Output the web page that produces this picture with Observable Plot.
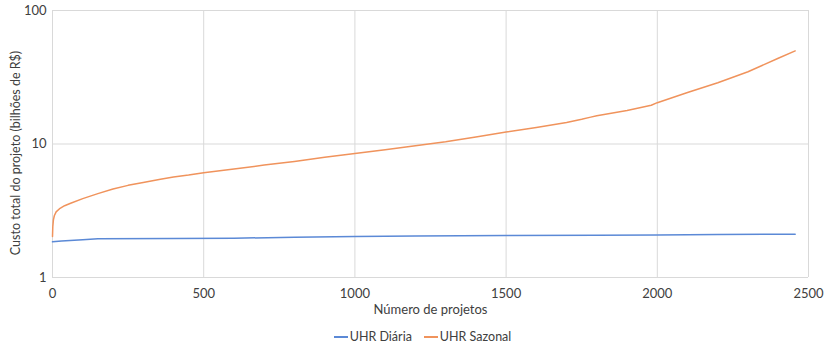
<!DOCTYPE html>
<html>
<head>
<meta charset="utf-8">
<script src="https://cdn.jsdelivr.net/npm/d3@7"></script>
<script src="https://cdn.jsdelivr.net/npm/@observablehq/plot@0.6"></script>
<style>
  body { margin: 0; background: #fff; font-family: Lato, "Open Sans", sans-serif; }
  #legend { display: flex; justify-content: center; gap: 12px; font-size: 12.5px; color: #404040; margin-left: 20px; margin-top: 7px; }
  .item { display: flex; align-items: center; gap: 2px; }
  .swatch { width: 14px; height: 2px; display: inline-block; }
</style>
</head>
<body>
<div id="chart"></div>
<div id="legend"></div>
<script>
const seriesNames = ["UHR Diária", "UHR Sazonal"];
const seriesColors = ["#5b89d6", "#f0935c"];

const diariaX = [0, 30, 100, 150, 400, 600, 800, 1000, 1200, 1500, 1800, 2000, 2200, 2456];
const diariaY = [1.85, 1.88, 1.92, 1.95, 1.96, 1.97, 2.0, 2.03, 2.05, 2.06, 2.07, 2.08, 2.1, 2.11];

const sazonalX = [0, 1, 3, 6, 12, 25, 40, 60, 100, 150, 200, 250, 300, 357, 400, 450, 500, 600, 700, 800, 900, 1000, 1100, 1200, 1300, 1400, 1500, 1600, 1700, 1750, 1780, 1800, 1900, 1980, 2000, 2100, 2200, 2300, 2400, 2456];
const sazonalY = [2.03, 2.4, 2.7, 2.9, 3.1, 3.3, 3.45, 3.6, 3.9, 4.25, 4.6, 4.9, 5.15, 5.45, 5.65, 5.85, 6.1, 6.5, 6.95, 7.4, 7.95, 8.5, 9.05, 9.7, 10.4, 11.3, 12.3, 13.3, 14.5, 15.3, 15.9, 16.3, 17.8, 19.5, 20.4, 24.3, 28.8, 34.8, 43.9, 49.8];

const xTicks = [0, 500, 1000, 1500, 2000, 2500];
const yTicks = [1, 10, 100];
const xLabel = "Número de projetos";
const yLabel = "Custo total do projeto (bilhões de R$)";

const diaria = diariaX.map((x, i) => ({x, y: diariaY[i]}));
const sazonal = sazonalX.map((x, i) => ({x, y: sazonalY[i]}));

const chart = Plot.plot({
  width: 825,
  height: 322,
  marginTop: 10,
  marginBottom: 45,
  marginLeft: 52,
  marginRight: 17,
  style: {fontFamily: "Lato, 'Open Sans', sans-serif", fontSize: "12px", color: "#404040", background: "#fff"},
  x: {domain: [0, 2500]},
  y: {type: "log", domain: [1, 100]},
  marks: [
    Plot.gridX(xTicks, {stroke: "#d9d9d9", strokeOpacity: 1}),
    Plot.gridY(yTicks, {stroke: "#d9d9d9", strokeOpacity: 1}),
    Plot.axisX(xTicks, {tickSize: 0, tickPadding: 11, tickFormat: d => String(d), label: xLabel, labelAnchor: "center", labelOffset: 36, labelArrow: "none", fontSize: 13}),
    Plot.axisY(yTicks, {tickSize: 0, tickPadding: 6, tickFormat: d => String(d), label: null, fontSize: 13}),
    Plot.text([yLabel], {frameAnchor: "left", textAnchor: "middle", dx: -37, dy: 9, rotate: -90, fontSize: 12.5, fill: "#404040"}),
    Plot.line(diaria, {x: "x", y: "y", stroke: seriesColors[0], strokeWidth: 1.5}),
    Plot.line(sazonal, {x: "x", y: "y", stroke: seriesColors[1], strokeWidth: 1.5})
  ]
});
document.getElementById("chart").appendChild(chart);

const legend = document.getElementById("legend");
seriesNames.forEach((name, i) => {
  const item = document.createElement("span");
  item.className = "item";
  const sw = document.createElement("span");
  sw.className = "swatch";
  sw.style.background = seriesColors[i];
  item.appendChild(sw);
  item.appendChild(document.createTextNode(name));
  legend.appendChild(item);
});
</script>
</body>
</html>
